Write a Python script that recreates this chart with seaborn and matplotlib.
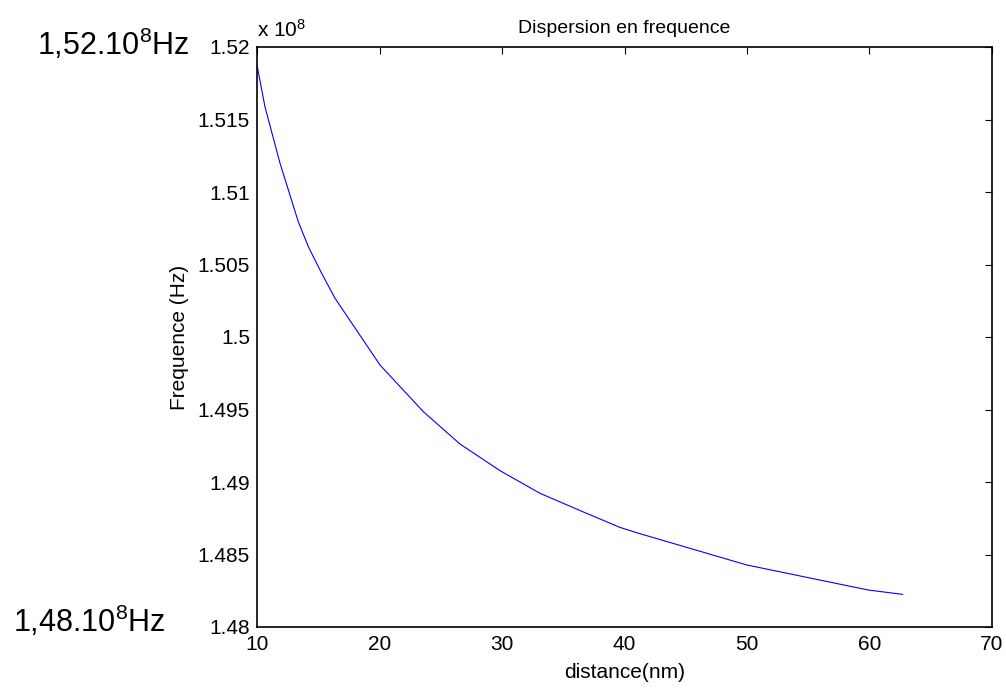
import matplotlib
matplotlib.use("Agg")
import matplotlib.pyplot as plt
import seaborn as sns
import pandas as pd

# Distance (nm) and resonance frequency (Hz) along the dispersion curve
distance_nm = [10.0, 10.65, 11.88, 13.37, 14.19, 15.28, 16.37, 20.04, 23.58, 26.57,
               29.84, 33.1, 36.9, 39.63, 41.0, 49.97, 59.9, 62.71]
frequency_hz = [1.51876e8, 1.51588e8, 1.51198e8, 1.50795e8, 1.50623e8, 1.50439e8,
                1.50267e8, 1.49807e8, 1.49485e8, 1.49262e8, 1.49078e8, 1.48922e8,
                1.48784e8, 1.48687e8, 1.48650e8, 1.48428e8, 1.48255e8, 1.48225e8]

x_ticks = [10, 20, 30, 40, 50, 60, 70]
y_ticks = [1.48e8, 1.485e8, 1.49e8, 1.495e8, 1.50e8, 1.505e8, 1.51e8, 1.515e8, 1.52e8]
y_tick_labels = ["1.48", "1.485", "1.49", "1.495", "1.5", "1.505", "1.51", "1.515", "1.52"]

sns.set_theme(style="white")
plt.rcParams["font.family"] = ["Liberation Sans", "DejaVu Sans"]
plt.rcParams["text.color"] = "black"
plt.rcParams["mathtext.fontset"] = "custom"
plt.rcParams["mathtext.rm"] = "Liberation Sans"
plt.rcParams["mathtext.it"] = "Liberation Sans"
plt.rcParams["mathtext.default"] = "regular"

W, H = 1006, 688
fig = plt.figure(figsize=(W / 100, H / 100), dpi=100)
fig.patch.set_facecolor("white")

left, right, top, bottom = 257, 992, 47, 627
ax = fig.add_axes([left / W, 1 - bottom / H, (right - left) / W, (bottom - top) / H])
ax.set_facecolor("white")

df = pd.DataFrame({"distance": distance_nm, "frequence": frequency_hz})
sns.lineplot(data=df, x="distance", y="frequence", ax=ax, color="#0000ff",
             linewidth=0.8, estimator=None, sort=False)

ax.set_xlim(10, 70)
ax.set_ylim(1.48e8, 1.52e8)
ax.set_xticks(x_ticks)
ax.set_xticklabels([str(t) for t in x_ticks])
ax.set_yticks(y_ticks)
ax.set_yticklabels(y_tick_labels)

for s in ax.spines.values():
    s.set_visible(True)
    s.set_color("black")
    s.set_linewidth(1.2)

ax.tick_params(axis="both", which="major", direction="in", length=5, width=0.8,
               top=True, right=True, labelsize=15, colors="black", pad=6)
ax.tick_params(axis="y", pad=5)

ax.set_xlabel("distance(nm)", fontsize=15, labelpad=6, color="black")
ax.set_ylabel("Frequence (Hz)", fontsize=15, labelpad=6, color="black")
ax.set_title("Dispersion en frequence", fontsize=14, pad=10, color="black")

# Exponent marker above the y axis
fig.text(left / W, 1 - 37 / H, r"x 10$^{8}$", fontsize=15, ha="left",
         va="baseline", color="black")

# Annotations of the frequency range
fig.text(37 / W, 1 - 55 / H, r"1,52.10$^{8}$Hz", fontsize=22, ha="left",
         va="baseline", color="black")
fig.text(13 / W, 1 - 632 / H, r"1,48.10$^{8}$Hz", fontsize=22, ha="left",
         va="baseline", color="black")

fig.savefig("out.png", dpi=100, facecolor="white")
